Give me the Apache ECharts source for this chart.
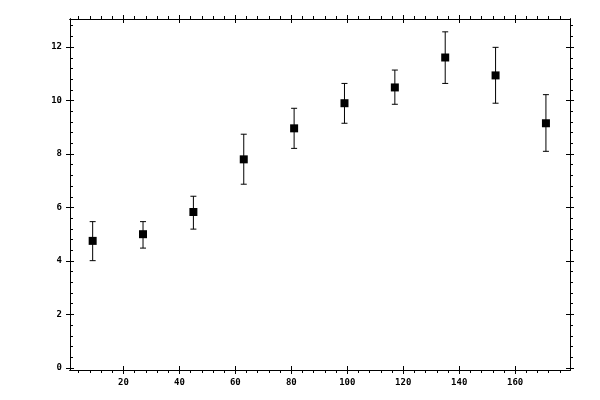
<!DOCTYPE html>
<html>
<head>
<meta charset="utf-8">
<script src="https://cdn.jsdelivr.net/npm/echarts@6/dist/echarts.min.js"></script>
<style>
  html, body { margin: 0; padding: 0; background: #fff; }
  #chart { width: 600px; height: 400px; }
</style>
</head>
<body>
<div id="chart"></div>
<script>
// data
var xs    = [9, 27, 45, 63, 81, 99, 117, 135, 153, 171];
var ys    = [4.75, 5.0, 5.83, 7.80, 8.96, 9.90, 10.49, 11.61, 10.94, 9.15];
var lows  = [4.01, 4.48, 5.19, 6.87, 8.21, 9.15, 9.86, 10.64, 9.90, 8.10];
var highs = [5.47, 5.47, 6.42, 8.74, 9.71, 10.64, 11.14, 12.57, 11.99, 10.22];

var xMajor = [20, 40, 60, 80, 100, 120, 140, 160];
var yMajor = [0, 2, 4, 6, 8, 10, 12];

// minor ticks: every 4 on x, every 0.4 on y
var xMinor = [];
for (var i = 4; i <= 176; i += 4) { if (i % 20 != 0) xMinor.push(i); }
var yMinor = [];
for (var j = 1; j <= 32; j++) { if (j % 5 != 0) yMinor.push(+(j * 0.4).toFixed(1)); }

var X_MIN = 0.9, X_MAX = 179.6, Y_MIN = -0.08, Y_MAX = 13.05;

function xAx(pos, ticks, inside, len, labels) {
    return {
        type: 'value', position: pos, min: X_MIN, max: X_MAX,
        splitLine: { show: false },
        axisLine: { show: true, onZero: false, lineStyle: { color: '#000', width: 1 } },
        axisTick: { show: true, inside: inside, length: len, customValues: ticks,
                    lineStyle: { color: '#000', width: 1 } },
        axisLabel: labels ? { show: true, customValues: ticks, color: '#000', margin: 8,
                    fontFamily: 'DejaVu Sans Mono', fontSize: 9, fontWeight: 'bold' } : { show: false }
    };
}
function yAx(pos, ticks, inside, len, labels) {
    return {
        type: 'value', position: pos, min: Y_MIN, max: Y_MAX,
        splitLine: { show: false },
        axisLine: { show: true, onZero: false, lineStyle: { color: '#000', width: 1 } },
        axisTick: { show: true, inside: inside, length: len, customValues: ticks,
                    lineStyle: { color: '#000', width: 1 } },
        axisLabel: labels ? { show: true, customValues: ticks, color: '#000', margin: 8,
                    fontFamily: 'DejaVu Sans Mono', fontSize: 9, fontWeight: 'bold' } : { show: false }
    };
}

var points = xs.map(function (x, k) { return [x, ys[k]]; });
var bars = xs.map(function (x, k) { return [x, lows[k], highs[k]]; });

var myChart = echarts.init(document.getElementById('chart'));
var option = {
    animation: false,
    grid: { left: 70, right: 30, top: 19, bottom: 30 },
    xAxis: [
        xAx('bottom', xMajor, false, 4, true),
        xAx('bottom', xMajor, true, 4, false),
        xAx('bottom', xMinor, false, 3, false),
        xAx('top', xMajor, false, 4, false),
        xAx('top', xMajor, true, 4, false),
        xAx('top', xMinor, false, 3, false)
    ],
    yAxis: [
        yAx('left', yMajor, false, 4, true),
        yAx('left', yMajor, true, 4, false),
        yAx('left', yMinor, true, 3, false),
        yAx('right', yMajor, false, 4, false),
        yAx('right', yMajor, true, 4, false),
        yAx('right', yMinor, false, 3, false)
    ],
    series: [{
        type: 'custom',
        data: bars,
        encode: { x: 0, y: [1, 2] },
        renderItem: function (params, api) {
            var x = api.value(0);
            var lo = api.coord([x, api.value(1)]);
            var hi = api.coord([x, api.value(2)]);
            var w = 3;
            var st = { stroke: '#000', lineWidth: 1 };
            return {
                type: 'group',
                children: [
                    { type: 'line', shape: { x1: lo[0], y1: lo[1], x2: hi[0], y2: hi[1] }, style: st },
                    { type: 'line', shape: { x1: lo[0] - w, y1: lo[1], x2: lo[0] + w, y2: lo[1] }, style: st },
                    { type: 'line', shape: { x1: hi[0] - w, y1: hi[1], x2: hi[0] + w, y2: hi[1] }, style: st }
                ]
            };
        },
        z: 2
    }, {
        type: 'scatter',
        data: points,
        symbol: 'rect',
        symbolSize: 8,
        itemStyle: { color: '#000', opacity: 1 },
        z: 3
    }]
};
myChart.setOption(option);
</script>
</body>
</html>
